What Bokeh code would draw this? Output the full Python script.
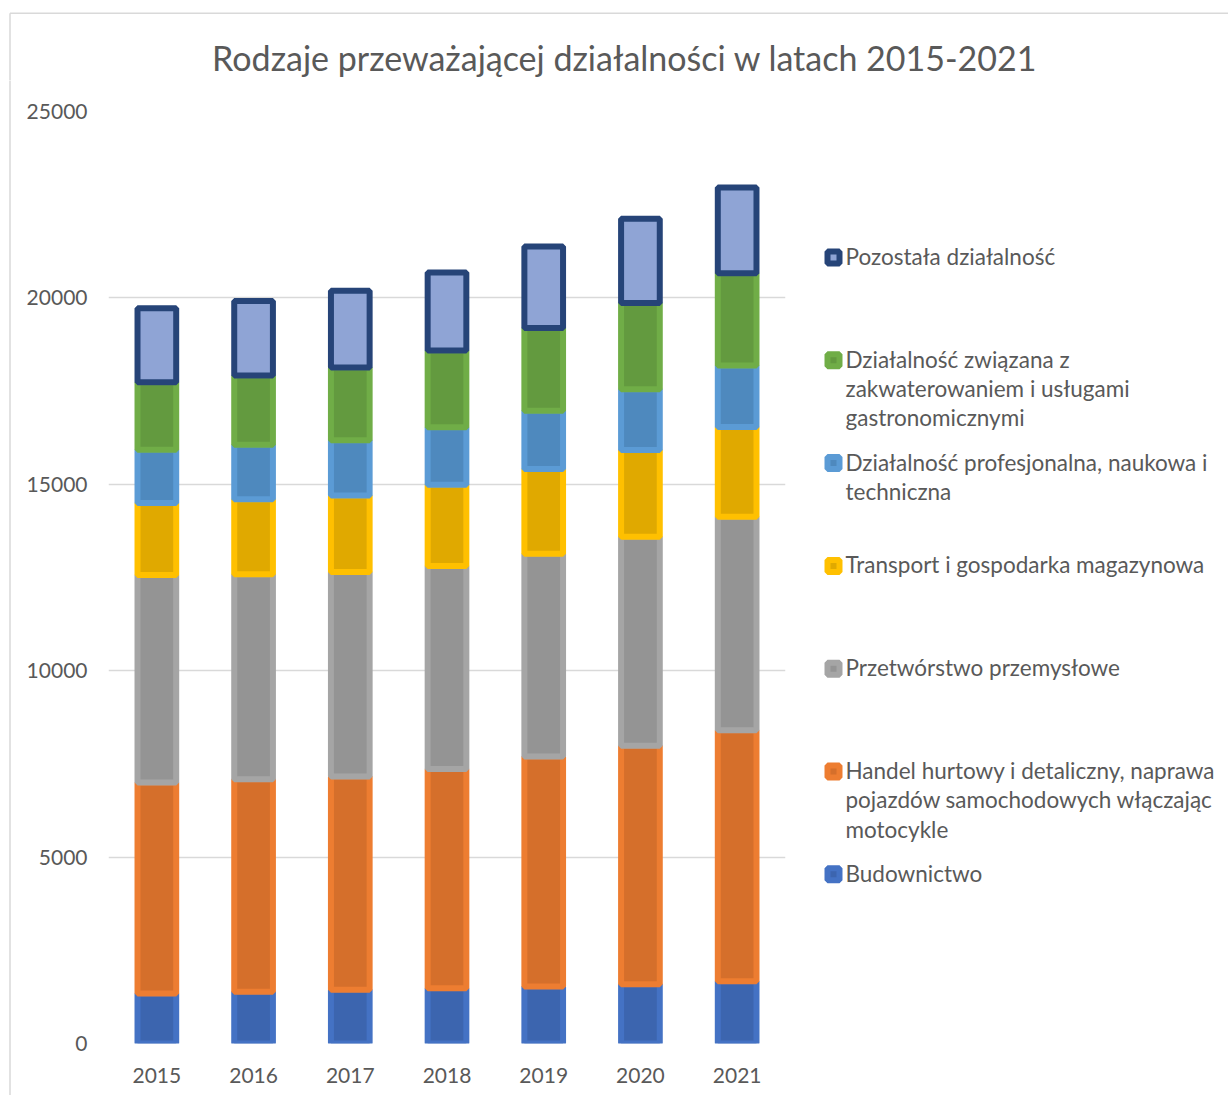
from bokeh.plotting import figure
from bokeh.layouts import column, row
from bokeh.models import ColumnDataSource, NumeralTickFormatter, SingleIntervalTicker, Range1d
from bokeh.core.properties import value
from bokeh.embed import file_html
from bokeh.resources import INLINE

# ---------------- data ----------------
years = ["2015", "2016", "2017", "2018", "2019", "2020", "2021"]
budownictwo = [1340, 1390, 1440, 1480, 1530, 1590, 1670]
handel = [5660, 5700, 5720, 5880, 6170, 6400, 6730]
przetworstwo = [5570, 5500, 5490, 5450, 5440, 5600, 5730]
transport = [1930, 2010, 2050, 2180, 2270, 2330, 2410]
profesjonalna = [1430, 1460, 1480, 1540, 1560, 1630, 1650]
zakwaterowanie = [1810, 1860, 1950, 2060, 2220, 2310, 2470]
pozostala = [1980, 2000, 2060, 2090, 2190, 2260, 2300]

series_keys = ["bud", "han", "prz", "tra", "pro", "zak", "poz"]
series_labels = [
    ["Budownictwo"],
    ["Handel hurtowy i detaliczny, naprawa", "pojazdów samochodowych włączając", "motocykle"],
    ["Przetwórstwo przemysłowe"],
    ["Transport i gospodarka magazynowa"],
    ["Działalność profesjonalna, naukowa i", "techniczna"],
    ["Działalność związana z", "zakwaterowaniem i usługami", "gastronomicznymi"],
    ["Pozostała działalność"],
]
fill_colors = ["#3C65AF", "#D56F2B", "#949494", "#E0A900", "#4E89BE", "#639A3F", "#8FA4D5"]
line_colors = ["#4472C4", "#ED7D31", "#A5A5A5", "#FFC000", "#5B9BD5", "#70AD47", "#264478"]

title_text = "Rodzaje przeważającej działalności w latach 2015-2021"

# ---------------- layout constants (page pixels) ----------------
TOTAL_W = 1228
TITLE_H = 80
STRIP_W = 12
FRAME_LEFT, FRAME_TOP, FRAME_W, FRAME_H = 108, 111, 677, 932
MAIN_RIGHT_PAD = 15
MAIN_BOTTOM_PAD = 52
MAIN_H = (FRAME_TOP - TITLE_H) + FRAME_H + MAIN_BOTTOM_PAD
MAIN_W = (FRAME_LEFT - STRIP_W) + FRAME_W + MAIN_RIGHT_PAD
LEG_X0 = STRIP_W + MAIN_W
LEG_W = TOTAL_W - LEG_X0
YMAX = 25000
TXT = "#595959"
FONT = "Lato"
BORDER = "#D9D9D9"
TITLE_FS = 34
LEG_FS = 22.5
BASELINE_FIX = 0.38   # text glyph baseline correction (fraction of font size)


def blank_fig(w, h, x0, x1, y0, y1):
    f = figure(width=w, height=h, x_range=Range1d(x0, x1), y_range=Range1d(y1, y0),
               min_border=0, x_axis_location=None, y_axis_location=None,
               output_backend="svg", toolbar_location=None, tools="")
    f.frame_align = False
    f.grid.grid_line_color = None
    f.outline_line_color = None
    f.background_fill_color = "white"
    f.border_fill_color = "white"
    return f


# ---------------- title strip ----------------
t = blank_fig(TOTAL_W, TITLE_H, 0, TOTAL_W, 0, TITLE_H)
t.segment(x0=[9.5, 9.5], y0=[12.7, 12.7], x1=[TOTAL_W + 5, 9.5], y1=[12.7, TITLE_H + 5],
          line_color=BORDER, line_width=1.5)
t.text(x=[624.5], y=[70 - BASELINE_FIX * TITLE_FS], text=[title_text], text_align="center",
       text_baseline="alphabetic", text_font=value(FONT), text_font_size=f"{TITLE_FS}px",
       text_color=TXT)

# ---------------- left border strip ----------------
s = blank_fig(STRIP_W, MAIN_H, 0, STRIP_W, TITLE_H, TITLE_H + MAIN_H)
s.segment(x0=[9.5], y0=[TITLE_H - 5], x1=[9.5], y1=[TITLE_H + MAIN_H + 5],
          line_color=BORDER, line_width=1.5)

# ---------------- main chart ----------------
src = ColumnDataSource(dict(
    year=years, bud=budownictwo, han=handel, prz=przetworstwo, tra=transport,
    pro=profesjonalna, zak=zakwaterowanie, poz=pozostala,
))

p = figure(
    x_range=years, y_range=(0, YMAX),
    frame_width=FRAME_W, frame_height=FRAME_H,
    min_border_left=FRAME_LEFT - STRIP_W, min_border_top=FRAME_TOP - TITLE_H,
    min_border_right=MAIN_RIGHT_PAD, min_border_bottom=MAIN_BOTTOM_PAD,
    output_backend="svg", toolbar_location=None, tools="",
)
p.frame_align = False
p.outline_line_color = None
p.background_fill_color = "white"
p.border_fill_color = "white"

p.vbar_stack(series_keys, x="year", width=0.4, source=src,
             fill_color=fill_colors, line_color=line_colors, line_width=6)

p.xgrid.grid_line_color = None
p.ygrid.grid_line_color = BORDER
p.ygrid.grid_line_width = 1.5
p.yaxis.ticker = SingleIntervalTicker(interval=5000)
p.yaxis.formatter = NumeralTickFormatter(format="0")
for ax in (p.xaxis[0], p.yaxis[0]):
    ax.axis_line_color = None
    ax.major_tick_line_color = None
    ax.minor_tick_line_color = None
    ax.major_tick_out = 0
    ax.major_tick_in = 0
    ax.major_label_text_font = FONT
    ax.major_label_text_font_size = "21px"
    ax.major_label_text_color = TXT
p.yaxis.major_label_standoff = 17
p.xaxis.major_label_standoff = 24

# ---------------- legend ----------------
lg = blank_fig(LEG_W, MAIN_H, LEG_X0, TOTAL_W, TITLE_H, TITLE_H + MAIN_H)
first_base = 264.5
pitch = 102.8
line_pitch = 29.3
mx, my, mfill, mline = [], [], [], []
tx, ty, tt = [], [], []
for i, k in enumerate(reversed(range(len(series_keys)))):
    base = first_base + i * pitch
    mx.append(833)
    my.append(base - 7.5)
    mfill.append(fill_colors[k])
    mline.append(line_colors[k])
    for j, line in enumerate(series_labels[k]):
        tx.append(845)
        ty.append(base + j * line_pitch - BASELINE_FIX * LEG_FS)
        tt.append(line)
lg.rect(x=mx, y=my, width=12, height=12, fill_color=mfill, line_color=mline, line_width=6)
lg.text(x=tx, y=ty, text=tt, text_align="left", text_baseline="alphabetic",
        text_font=value(FONT), text_font_size=f"{LEG_FS}px", text_color=TXT)

layout = column(t, row(s, p, lg))
open("out.html", "w").write(file_html(layout, INLINE))
